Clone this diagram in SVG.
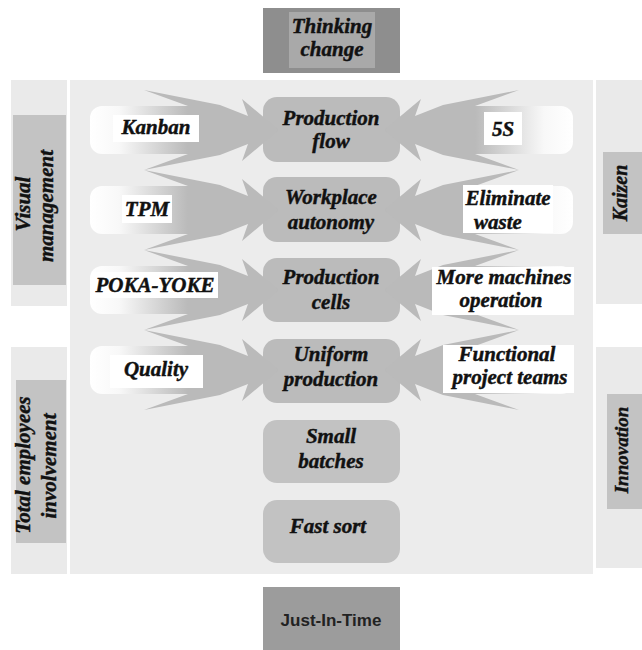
<svg xmlns="http://www.w3.org/2000/svg" width="642" height="650" viewBox="0 0 642 650">
<style>
.t{font-family:"Liberation Serif","Times New Roman",serif;font-weight:bold;font-style:italic;font-size:21px;fill:#111;stroke:#111;stroke-width:0.45;text-anchor:middle}
.panel{fill:#eaeaea}
.center{fill:#ececec}
.box{fill:#bbbbbb}
.box2{fill:#c2c2c2}
.side{fill:#c3c3c3}
.lbl{fill:#ffffff}
.arr{fill:#bababa}
.jit{font-family:"Liberation Sans",Arial,sans-serif;font-weight:bold;font-size:17px;fill:#222;text-anchor:middle}
</style>
<defs>
<linearGradient id="pillGrad" x1="0" y1="0" x2="1" y2="0">
<stop offset="0" stop-color="#ffffff"/>
<stop offset="0.22" stop-color="#f8f8f8"/>
<stop offset="0.74" stop-color="#bababa"/>
<stop offset="1" stop-color="#bababa"/>
</linearGradient>
<g id="arrow">
<rect x="90" y="-24" width="132" height="48" rx="12" fill="url(#pillGrad)"/>
<polygon class="arr" points="144,-40 220,-25 248,-14 242,-31 279,0 242,31 248,14 220,25 144,40 188,24 188,-24"/>
</g>
</defs>
<rect width="642" height="650" fill="#ffffff"/>
<g id="panels">
<rect class="panel" x="11" y="80" width="56" height="226"/>
<rect class="panel" x="11" y="347" width="56" height="227"/>
<rect class="center" x="70" y="80" width="523" height="494"/>
<rect class="panel" x="596" y="80" width="46" height="224"/>
<rect class="panel" x="596" y="347" width="46" height="221"/>
</g>
<g id="node-thinking-change">
<rect x="263" y="8" width="137" height="65" fill="#8e8e8e"/>
<rect x="289" y="12" width="86" height="56" fill="#a9a9a9"/>
<text class="t" x="332" y="33">Thinking</text>
<text class="t" x="332" y="56">change</text>
</g>
<g id="node-production-flow">
<rect class="box" x="263" y="97" width="137" height="65" rx="14"/>
<text class="t" x="331" y="125">Production</text>
<text class="t" x="331" y="148">flow</text>
</g>
<g id="node-workplace-autonomy">
<rect class="box" x="263" y="177" width="137" height="65" rx="14"/>
<text class="t" x="331" y="204">Workplace</text>
<text class="t" x="331" y="229">autonomy</text>
</g>
<g id="node-production-cells">
<rect class="box" x="263" y="258" width="137" height="64" rx="14"/>
<text class="t" x="331" y="284">Production</text>
<text class="t" x="331" y="309">cells</text>
</g>
<g id="node-uniform-production">
<rect class="box" x="263" y="339" width="137" height="64" rx="14"/>
<text class="t" x="331" y="361">Uniform</text>
<text class="t" x="331" y="386">production</text>
</g>
<g id="node-small-batches">
<rect class="box2" x="263" y="420" width="137" height="63" rx="14"/>
<text class="t" x="331" y="443">Small</text>
<text class="t" x="331" y="468">batches</text>
</g>
<g id="node-fast-sort">
<rect class="box2" x="263" y="500" width="137" height="63" rx="14"/>
<text class="t" x="328" y="533">Fast sort</text>
</g>
<g id="connectors">
<use href="#arrow" transform="translate(0,130)"/>
<use href="#arrow" transform="translate(0,210)"/>
<use href="#arrow" transform="translate(0,290)"/>
<use href="#arrow" transform="translate(0,370)"/>
<use href="#arrow" transform="translate(663,130) scale(-1,1)"/>
<use href="#arrow" transform="translate(663,210) scale(-1,1)"/>
<use href="#arrow" transform="translate(663,290) scale(-1,1)"/>
<use href="#arrow" transform="translate(663,370) scale(-1,1)"/>
</g>
<g id="node-kanban">
<rect class="lbl" x="113" y="115" width="86" height="27"/>
<text class="t" x="156" y="134">Kanban</text>
</g>
<g id="node-tpm">
<rect class="lbl" x="122" y="195" width="50" height="28"/>
<text class="t" x="147" y="216">TPM</text>
</g>
<g id="node-poka-yoke">
<rect class="lbl" x="92" y="272" width="126" height="26"/>
<text class="t" x="155" y="292">POKA-YOKE</text>
</g>
<g id="node-quality">
<rect class="lbl" x="110" y="355" width="93" height="33"/>
<text class="t" x="156" y="376">Quality</text>
</g>
<g id="node-5s">
<rect class="lbl" x="484" y="112" width="38" height="33"/>
<text class="t" x="503" y="136">5S</text>
</g>
<g id="node-eliminate-waste">
<rect class="lbl" x="463" y="185" width="90" height="48"/>
<text class="t" x="508" y="205">Eliminate</text>
<text class="t" x="498" y="229">waste</text>
</g>
<g id="node-more-machines-operation">
<rect class="lbl" x="432" y="267" width="142" height="48"/>
<text class="t" x="504" y="284">More machines</text>
<text class="t" x="501" y="307">operation</text>
</g>
<g id="node-functional-project-teams">
<rect class="lbl" x="443" y="345" width="131" height="48"/>
<text class="t" x="507" y="361">Functional</text>
<text class="t" x="510" y="384">project teams</text>
</g>
<g id="node-visual-management">
<rect class="side" x="13" y="115" width="53" height="170"/>
<text class="t" transform="translate(30,204) rotate(-90)">Visual</text>
<text class="t" transform="translate(53,206) rotate(-90)">management</text>
</g>
<g id="node-total-employees-involvement">
<rect class="side" x="16" y="380" width="50" height="163"/>
<text class="t" transform="translate(30,465) rotate(-90)">Total employees</text>
<text class="t" transform="translate(56,466) rotate(-90)">involvement</text>
</g>
<g id="node-kaizen">
<rect class="side" x="603" y="152" width="39" height="82"/>
<text class="t" style="font-size:20px" transform="translate(627,193) rotate(-90)">Kaizen</text>
</g>
<g id="node-innovation">
<rect class="side" x="607" y="394" width="35" height="115"/>
<text class="t" style="font-size:19px" transform="translate(628,450) rotate(-90)">Innovation</text>
</g>
<g id="node-just-in-time">
<rect x="263" y="587" width="137" height="63" fill="#9c9c9c"/>
<text class="jit" x="331" y="626">Just-In-Time</text>
</g>
</svg>
